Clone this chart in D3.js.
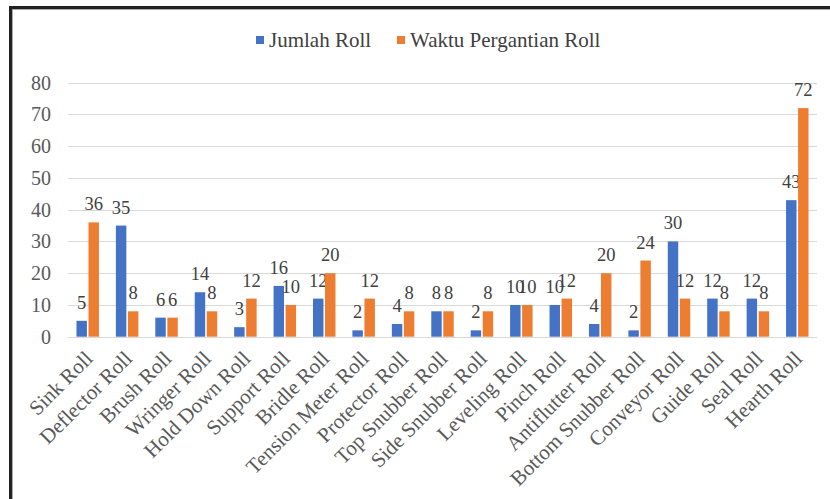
<!DOCTYPE html>
<html><head><meta charset="utf-8">
<script src="https://cdn.jsdelivr.net/npm/d3@7"></script>
<style>body{margin:0;background:#fff}svg{display:block}svg text{font-family:"Liberation Serif","DejaVu Serif",serif}</style>
</head><body><svg id="c" width="830" height="499"></svg>
<script>
const categories = ["Sink Roll","Deflector Roll","Brush Roll","Wringer Roll","Hold Down Roll","Support Roll","Bridle Roll","Tension Meter Roll","Protector Roll","Top Snubber Roll","Side Snubber Roll","Leveling Roll","Pinch Roll","Antiflutter Roll","Bottom Snubber Roll","Conveyor Roll","Guide Roll","Seal Roll","Hearth Roll"];
const jumlahRoll = [5,35,6,14,3,16,12,2,4,8,2,10,10,4,2,30,12,12,43];
const waktuPergantian = [36,8,6,8,12,10,20,12,8,8,8,10,12,20,24,12,8,8,72];
const seriesNames = ["Jumlah Roll","Waktu Pergantian Roll"];
const yTicks = [0,10,20,30,40,50,60,70,80];
const colors = ["#4472C4","#ED7D31"];

(function(){
const svg = d3.select("#c");
// frame
svg.append("rect").attr("x",10.5).attr("y",7.5).attr("width",840).attr("height",520)
  .attr("fill","none").attr("stroke","#222").attr("stroke-width",3);
svg.append("rect").attr("x",12.5).attr("y",9.5).attr("width",840).attr("height",520)
  .attr("fill","none").attr("stroke","#aaa").attr("stroke-width",1);

const pL=68, pR=817, pT=82.7, pB=336.7;
const x = d3.scaleBand().domain(categories).range([pL,pR]);
const y = d3.scaleLinear().domain([0,80]).range([pB,pT]);
const bw = x.bandwidth()*0.265, gap = x.bandwidth()*0.04;

// gridlines
svg.append("g").selectAll("line").data(yTicks).join("line")
  .attr("x1",pL).attr("x2",pR).attr("y1",d=>Math.round(y(d))+0.5).attr("y2",d=>Math.round(y(d))+0.5)
  .attr("stroke","#d9d9d9").attr("stroke-width",1);
// y axis labels
const yAxis = d3.axisLeft(y).tickValues(yTicks).tickSize(0).tickPadding(0);
const ga = svg.append("g").attr("transform",`translate(${pL-17},0)`).call(yAxis);
ga.select(".domain").remove();
ga.attr("font-family",null).attr("font-size",null);
ga.selectAll("text").attr("font-size",20).attr("fill","#595959");

const series = [jumlahRoll, waktuPergantian];
series.forEach((vals,si)=>{
  const off = si===0 ? -gap/2-bw : gap/2;
  const g = svg.append("g");
  g.selectAll("rect").data(vals).join("rect")
    .attr("x",(d,i)=>x(categories[i])+x.bandwidth()/2+off)
    .attr("width",bw)
    .attr("y",d=>y(d)).attr("height",d=>y(0)-y(d))
    .attr("fill",colors[si]);
  g.selectAll("text").data(vals).join("text")
    .attr("x",(d,i)=>x(categories[i])+x.bandwidth()/2+off+bw/2)
    .attr("y",d=>y(d)-12)
    .attr("text-anchor","middle")
    .attr("font-size",18.5).attr("fill","#404040")
    .text(d=>d);
});

// x labels
svg.append("g").selectAll("text").data(categories).join("text")
  .attr("transform",d=>`translate(${x(d)+x.bandwidth()/2+1},${pB+18}) rotate(-45)`)
  .attr("text-anchor","end").attr("dy","0.35em")
  .attr("font-size",21).attr("fill","#595959")
  .text(d=>d);

// legend
const leg = svg.append("g");
const legX = [256, 397];
seriesNames.forEach((n,i)=>{
  leg.append("rect").attr("x",legX[i]).attr("y",36).attr("width",8).attr("height",8).attr("fill",colors[i]);
  leg.append("text").attr("x",legX[i]+13).attr("y",47).attr("font-size",21)
    .attr("fill","#404040").text(n);
});
})();
</script></body></html>
